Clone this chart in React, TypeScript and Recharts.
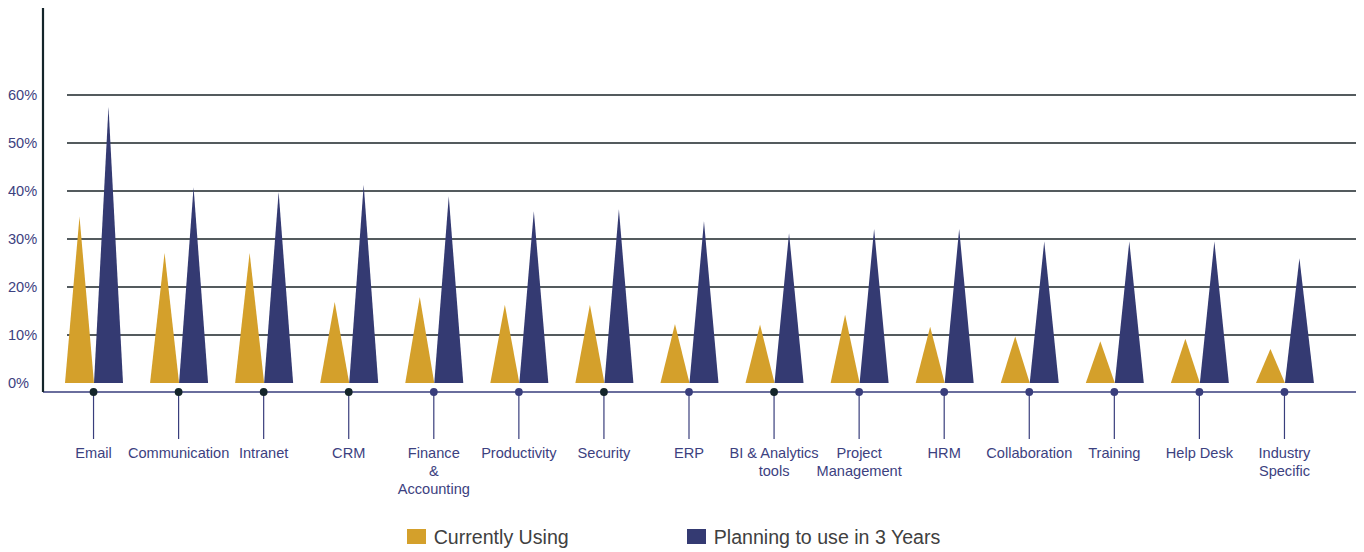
import React from "react";
import { BarChart, Bar, XAxis, YAxis, CartesianGrid, Legend } from "recharts";

const categories = [
  "Email",
  "Communication",
  "Intranet",
  "CRM",
  "Finance & Accounting",
  "Productivity",
  "Security",
  "ERP",
  "BI & Analytics tools",
  "Project Management",
  "HRM",
  "Collaboration",
  "Training",
  "Help Desk",
  "Industry Specific",
];

const labelLines: string[][] = [
  ["Email"],
  ["Communication"],
  ["Intranet"],
  ["CRM"],
  ["Finance", "&", "Accounting"],
  ["Productivity"],
  ["Security"],
  ["ERP"],
  ["BI & Analytics", "tools"],
  ["Project", "Management"],
  ["HRM"],
  ["Collaboration"],
  ["Training"],
  ["Help Desk"],
  ["Industry", "Specific"],
];

const currentlyUsing = [34.7, 27.1, 27.1, 16.9, 17.9, 16.3, 16.3, 12.3, 12.2, 14.2, 11.7, 9.7, 8.7, 9.2, 7.1];
const planningIn3Years = [57.6, 40.8, 39.8, 41.3, 38.9, 35.8, 36.2, 33.7, 31.2, 32.1, 32.1, 29.5, 29.5, 29.5, 26.0];

const yTicks = [0, 10, 20, 30, 40, 50, 60];
const darkDotCategories = ["Email", "Communication", "Intranet", "CRM", "Security", "BI & Analytics tools"];

const seriesNames = ["Currently Using", "Planning to use in 3 Years"];

const GOLD = "#D4A02B";
const NAVY = "#343A72";
const DARK = "#14252A";
const AXIS_NAVY = "#393E7C";
const LABEL = "#3C4180";
const FONT = "'Liberation Sans', Arial, sans-serif";

const data = categories.map((c, i) => ({
  category: c,
  current: currentlyUsing[i],
  planning: planningIn3Years[i],
}));

const Triangle = (props: any) => {
  const { x, y, width, height, fill } = props;
  if (!height || height <= 0) return null;
  return (
    <path
      d={`M${x},${y + height} L${x + width / 2},${y} L${x + width},${y + height} Z`}
      fill={fill}
    />
  );
};

const XTick = (props: any) => {
  const { x, y, payload } = props;
  const i = categories.indexOf(payload.value);
  const lines = labelLines[i] || [payload.value];
  const dark = darkDotCategories.includes(payload.value);
  return (
    <g>
      <line x1={x} y1={y} x2={x} y2={y + 47} stroke={AXIS_NAVY} strokeWidth={1.2} />
      <circle cx={x} cy={y} r={3.9} fill={dark ? DARK : AXIS_NAVY} />
      <text textAnchor="middle" fontSize={14.6} fontFamily={FONT} fill={LABEL}>
        {lines.map((l, k) => (
          <tspan key={k} x={x} y={y + 66 + k * 17.8}>
            {l}
          </tspan>
        ))}
      </text>
    </g>
  );
};

const YTick = (props: any) => {
  const { x, y, payload } = props;
  return (
    <text x={x - 35} y={y} dy={5} textAnchor="start" fontSize={14.6} fontFamily={FONT} fill={LABEL}>
      {`${payload.value}%`}
    </text>
  );
};

const GridLine = (props: any) => {
  const { x1, y1, x2, y2, index } = props;
  if (index === 0) return null;
  return <line x1={x1 + 24} y1={y1} x2={x2} y2={y2} stroke="#1B2528" strokeWidth={1.3} />;
};

const LegendContent = () => (
  <div
    style={{
      display: "flex",
      justifyContent: "center",
      alignItems: "flex-start",
      height: 52,
      boxSizing: "border-box",
      paddingTop: 26.5,
      paddingRight: 19,
      fontFamily: FONT,
      fontSize: 19.6,
      color: "#404040",
    }}
  >
    {[GOLD, NAVY].map((c, i) => (
      <div key={i} style={{ display: "flex", alignItems: "center", height: 20, marginLeft: i === 0 ? 0 : 118 }}>
        <div style={{ width: 19, height: 15, background: c, marginRight: 8 }} />
        <span style={{ lineHeight: "20px", whiteSpace: "nowrap" }}>{seriesNames[i]}</span>
      </div>
    ))}
  </div>
);

export default function App() {
  return (
    <div style={{ width: 1350, height: 544 }}>
      <BarChart
        width={1350}
        height={544}
        data={data}
        margin={{ top: 0, right: 0, left: 0, bottom: 0 }}
        barGap={0}
        barCategoryGap={14}
      >
        <CartesianGrid vertical={false} syncWithTicks horizontal={GridLine as any} />
        <XAxis
          dataKey="category"
          interval={0}
          height={108}
          padding={{ left: 8, right: 31 }}
          axisLine={{ stroke: AXIS_NAVY, strokeWidth: 1.5 }}
          tickLine={false}
          tickSize={0}
          tickMargin={0}
          tick={<XTick />}
        />
        <YAxis
          width={35}
          domain={[-1.875, 78.125]}
          ticks={yTicks}
          axisLine={{ stroke: DARK, strokeWidth: 2.2 }}
          tickLine={false}
          tickSize={0}
          tickMargin={0}
          tick={<YTick />}
        />
        <Legend verticalAlign="bottom" height={52} content={<LegendContent />} />
        <Bar dataKey="current" name={seriesNames[0]} fill={GOLD} shape={<Triangle />} isAnimationActive={false} />
        <Bar dataKey="planning" name={seriesNames[1]} fill={NAVY} shape={<Triangle />} isAnimationActive={false} />
      </BarChart>
    </div>
  );
}
